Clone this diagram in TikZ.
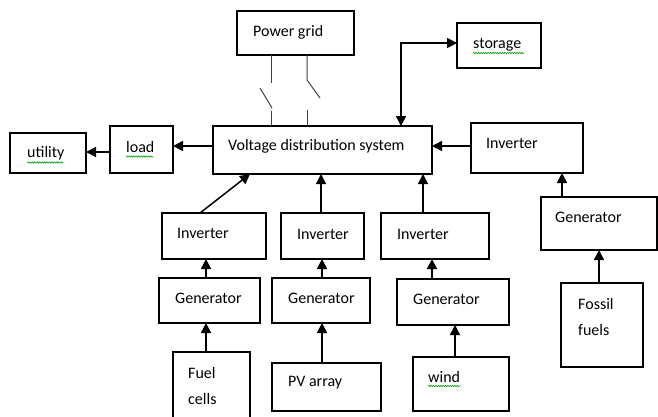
\documentclass[tikz,border=0pt]{standalone}
\usepackage{fontspec}
\setmainfont{Carlito}
\usetikzlibrary{arrows.meta,decorations.pathmorphing}
\begin{document}
\begin{tikzpicture}[x=1pt,y=-1pt,
 box/.style={draw, line width=1.2pt, inner sep=0pt, outer sep=0pt},
 lbl/.style={anchor=west, inner sep=0pt, align=left, font=\fontsize{16}{26}\selectfont},
 arr/.style={line width=1.5pt, -{Triangle[length=10pt,width=10pt]}},
 darr/.style={line width=1.5pt, {Triangle[length=10pt,width=10pt]}-{Triangle[length=10pt,width=10pt]}},
 sw/.style={line width=1pt, draw=black!75},
 squig/.style={draw=green!60!black, line width=0.6pt, decorate, decoration={snake, amplitude=0.7pt, segment length=2.4pt}}]
\useasboundingbox (0,0) rectangle (658,416);

% boxes
\node[box, minimum width=117pt, minimum height=44pt] (pg) at (295.5,33) {};
\node[box, minimum width=84pt, minimum height=45pt] (st) at (499,45.5) {};
\node[box, minimum width=76pt, minimum height=40pt] (ut) at (48,153) {};
\node[box, minimum width=63pt, minimum height=47pt] (ld) at (141.5,149.5) {};
\node[box, minimum width=219pt, minimum height=48pt] (vds) at (322.5,150) {};
\node[box, minimum width=112pt, minimum height=50pt] (inv4) at (527,148) {};
\node[box, minimum width=104pt, minimum height=46pt] (inv1) at (214,236) {};
\node[box, minimum width=83pt, minimum height=46pt] (inv2) at (322.5,236) {};
\node[box, minimum width=108pt, minimum height=46pt] (inv3) at (435,236) {};
\node[box, minimum width=101pt, minimum height=45pt] (gen1) at (209.5,300.5) {};
\node[box, minimum width=98pt, minimum height=45pt] (gen2) at (321,300.5) {};
\node[box, minimum width=112pt, minimum height=46pt] (gen3) at (453,302) {};
\node[box, minimum width=116pt, minimum height=53pt] (gen4) at (599,223.5) {};
\node[box, minimum width=77pt, minimum height=68pt] (fc) at (211.5,386) {};
\node[box, minimum width=109pt, minimum height=48pt] (pv) at (326.5,387) {};
\node[box, minimum width=96pt, minimum height=54pt] (wd) at (461,384) {};
\node[box, minimum width=82pt, minimum height=84pt] (ff) at (602,325) {};

% labels
\node[lbl] (tpg) at (253,32) {Power grid};
\node[lbl] (tst) at (473,45) {storage};
\node[lbl] (tut) at (27,153) {utility};
\node[lbl] (tld) at (126,147) {load};
\node[lbl] (tvds) at (228,146) {Voltage distribution system};
\node[lbl] (tinv4) at (486,143) {Inverter};
\node[lbl] (tinv1) at (177,233) {Inverter};
\node[lbl] (tinv2) at (297,234) {Inverter};
\node[lbl] (tinv3) at (397,234) {Inverter};
\node[lbl] (tgen1) at (175,298) {Generator};
\node[lbl] (tgen2) at (288,298) {Generator};
\node[lbl] (tgen3) at (413,299) {Generator};
\node[lbl] (tgen4) at (555,217) {Generator};
\node[lbl] (tfc) at (188,386) {Fuel\\cells};
\node[lbl] (tpv) at (288,383) {PV array};
\node[lbl] (twd) at (428,377) {wind};
\node[lbl] (tff) at (578,317) {Fossil\\fuels};

% spell-check squiggles
\draw[squig] (27,162.5) -- (63,162.5);
\draw[squig] (126,156.5) -- (153,156.5);
\draw[squig] (473,53) -- (524,53);
\draw[squig] (428,386) -- (460,386);

% switches between power grid and distribution system
\coordinate (s1a) at (271,83);
\coordinate (s1b) at (260,88);
\coordinate (s1c) at (272,108);
\coordinate (s1d) at (271,111);
\coordinate (s2a) at (307,80);
\coordinate (s2b) at (320,98);
\coordinate (s2c) at (307,110);
\draw[sw] (pg.south -| s1a) -- (s1a);
\draw[sw] (s1b) -- (s1c);
\draw[sw] (s1d) -- (vds.north -| s1d);
\draw[sw] (pg.south -| s2a) -- (s2a) -- (s2b);
\draw[sw] (s2c) -- (vds.north -| s2c);

% connectors
\draw[arr] (vds.west |- 0,146) -- (ld.east |- 0,146);
\draw[arr] (ld.west |- 0,152) -- (ut.east |- 0,152);
\draw[arr] (inv4.west |- 0,146) -- (vds.east |- 0,146);
\draw[darr] (vds.north -| 401,0) |- (st.west |- 0,43);
\draw[arr] (inv1.north -| 200,0) -- (vds.south -| 250,0);
\draw[arr] (inv2.north -| 321,0) -- (vds.south -| 321,0);
\draw[arr] (inv3.north -| 423,0) -- (vds.south -| 423,0);
\draw[arr] (gen1.north -| 206,0) -- (inv1.south -| 206,0);
\draw[arr] (gen2.north -| 322,0) -- (inv2.south -| 322,0);
\draw[arr] (gen3.north -| 432,0) -- (inv3.south -| 432,0);
\draw[arr] (gen4.north -| 562,0) -- (inv4.south -| 562,0);
\draw[arr] (fc.north -| 206,0) -- (gen1.south -| 206,0);
\draw[arr] (pv.north -| 322,0) -- (gen2.south -| 322,0);
\draw[arr] (wd.north -| 455,0) -- (gen3.south -| 455,0);
\draw[arr] (ff.north -| 599,0) -- (gen4.south -| 599,0);
\end{tikzpicture}
\end{document}
